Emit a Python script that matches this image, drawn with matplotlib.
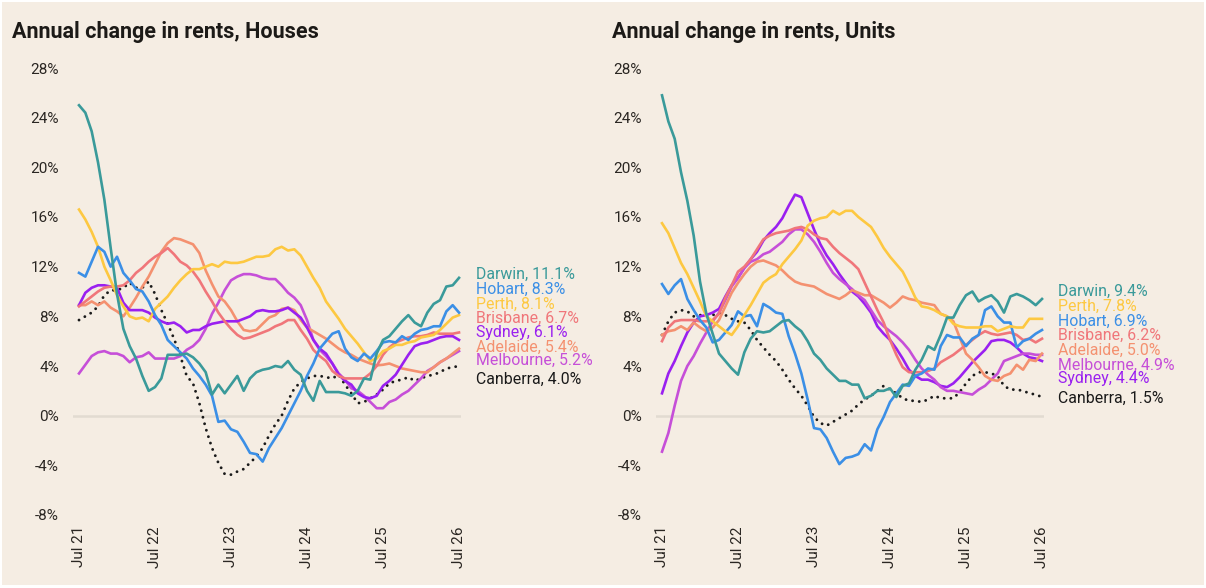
import numpy as np
import matplotlib
matplotlib.use("Agg")
import matplotlib.pyplot as plt
from matplotlib.patches import Rectangle

plt.rcParams['font.family'] = ['Roboto', 'DejaVu Sans']

# monthly observations, Jul 2021 .. Jul 2026 (61 months)
tick_months = [0, 12, 24, 36, 48, 60]
tick_labels = ['Jul 21', 'Jul 22', 'Jul 23', 'Jul 24', 'Jul 25', 'Jul 26']

# ---- Houses ----
h_darwin = [25.0, 24.4, 22.9, 20.4, 17.4, 13.5, 9.8, 7.0, 5.6, 4.6, 3.2, 2.0, 2.3, 3.0, 4.9, 4.9,
            4.9, 5.0, 4.7, 4.2, 3.5, 1.7, 2.5, 1.8, 2.5, 3.2, 2.0, 3.0, 3.5, 3.7, 3.8, 4.0,
            3.9, 4.4, 3.7, 3.3, 2.0, 1.2, 2.8, 1.9, 1.9, 1.9, 1.8, 1.6, 2.0, 3.0, 2.9, 5.0,
            6.1, 6.4, 7.0, 7.6, 8.1, 7.5, 7.2, 8.3, 9.0, 9.3, 10.4, 10.5, 11.1]
h_hobart = [11.5, 11.2, 12.4, 13.6, 13.2, 12.0, 12.8, 11.5, 10.9, 10.2, 10.0, 9.2, 8.1, 7.3, 6.1, 5.6,
            5.1, 4.6, 3.8, 3.2, 2.5, 1.6, -0.5, -0.4, -1.1, -1.3, -2.1, -3.0, -3.1, -3.7, -2.6, -1.8,
            -1.0, 0.0, 1.0, 2.0, 3.2, 4.2, 5.4, 6.0, 6.6, 6.8, 5.4, 4.7, 4.4, 5.0, 4.6, 5.2,
            5.9, 6.0, 5.9, 6.4, 6.1, 6.6, 6.9, 7.0, 7.2, 7.2, 8.4, 8.9, 8.3]
h_perth = [16.6, 15.8, 14.8, 13.6, 12.0, 10.9, 9.7, 8.8, 8.0, 7.8, 7.9, 7.6, 8.6, 9.1, 9.6, 10.3,
           10.9, 11.4, 11.8, 11.8, 12.0, 12.2, 12.0, 12.4, 12.3, 12.3, 12.4, 12.6, 12.8, 12.8, 12.9, 13.4,
           13.6, 13.3, 13.4, 12.9, 12.0, 11.1, 10.3, 9.2, 8.5, 7.8, 7.0, 6.4, 5.8, 5.1, 4.4, 4.6,
           5.2, 5.4, 5.7, 5.7, 5.9, 6.0, 6.3, 6.4, 6.5, 6.9, 7.4, 7.9, 8.1]
h_brisbane = [8.8, 9.2, 9.6, 10.0, 10.3, 10.4, 10.4, 10.5, 10.9, 11.5, 11.9, 12.4, 12.8, 13.1, 13.5, 13.0,
              12.4, 12.1, 11.6, 10.9, 10.0, 9.2, 8.3, 7.6, 7.0, 6.5, 6.2, 6.3, 6.5, 6.7, 6.9, 7.2,
              7.4, 7.7, 7.7, 6.9, 6.2, 5.3, 4.8, 4.4, 3.6, 3.2, 3.0, 3.0, 3.0, 3.0, 3.4, 4.0,
              4.9, 5.5, 5.9, 6.1, 6.3, 6.4, 6.4, 6.5, 6.7, 6.6, 6.6, 6.6, 6.7]
h_sydney = [8.9, 9.9, 10.3, 10.5, 10.5, 10.4, 10.3, 9.1, 8.5, 8.5, 8.5, 8.3, 7.9, 7.6, 7.4, 7.5,
            7.2, 6.7, 6.9, 6.9, 7.2, 7.4, 7.5, 7.6, 7.6, 7.6, 7.8, 8.0, 8.4, 8.5, 8.4, 8.4,
            8.5, 8.7, 8.3, 7.9, 7.1, 6.1, 5.4, 5.0, 4.2, 3.3, 2.8, 2.5, 1.8, 1.5, 1.4, 1.6,
            2.4, 2.8, 3.3, 4.1, 4.9, 5.6, 5.8, 5.9, 6.1, 6.3, 6.4, 6.4, 6.1]
h_adelaide = [8.9, 8.9, 9.2, 8.9, 9.2, 8.7, 8.4, 8.0, 8.7, 9.5, 10.4, 11.2, 12.2, 13.2, 13.9, 14.3,
              14.2, 14.0, 13.8, 13.1, 11.7, 10.6, 9.6, 9.2, 8.5, 7.6, 6.9, 6.8, 6.9, 7.4, 7.9, 8.1,
              8.6, 8.7, 8.5, 7.7, 7.1, 6.8, 6.5, 6.2, 5.8, 5.4, 5.1, 4.9, 4.6, 4.4, 4.2, 4.05,
              4.1, 4.2, 4.0, 3.8, 3.7, 3.6, 3.5, 3.5, 3.9, 4.3, 4.6, 5.0, 5.4]
h_melbourne = [3.4, 4.1, 4.8, 5.1, 5.2, 5.0, 5.0, 4.8, 4.3, 4.7, 4.8, 5.1, 4.6, 4.6, 4.6, 4.6,
               4.8, 5.3, 5.6, 6.1, 7.0, 8.2, 9.1, 10.1, 10.9, 11.2, 11.4, 11.4, 11.3, 11.1, 11.0, 11.0,
               10.5, 9.9, 9.5, 8.9, 7.7, 6.1, 5.3, 4.8, 4.2, 3.4, 2.9, 2.2, 2.0, 1.6, 1.1, 0.6,
               0.6, 1.1, 1.3, 1.7, 2.0, 2.5, 3.0, 3.6, 3.9, 4.3, 4.6, 4.9, 5.2]
h_canberra = [7.7, 8.0, 8.3, 8.8, 9.7, 10.1, 10.1, 10.3, 10.7, 10.3, 10.3, 10.8, 9.8, 8.5, 7.4, 6.2,
              4.8, 3.2, 2.6, 1.0, -1.0, -2.6, -3.8, -4.7, -4.75, -4.5, -4.3, -3.8, -3.3, -2.6, -1.6, -0.7,
              0.0, 1.2, 2.2, 2.7, 3.0, 3.2, 3.2, 3.1, 3.0, 3.3, 2.5, 1.8, 1.0, 1.1, 1.4, 1.7,
              2.1, 2.6, 2.8, 2.9, 3.1, 2.8, 3.0, 3.2, 3.3, 3.5, 3.8, 3.9, 4.0]

# ---- Units ----
u_darwin = [25.8, 23.7, 22.3, 19.6, 17.3, 14.5, 10.8, 8.2, 6.6, 5.0, 4.4, 3.8, 3.3, 5.1, 6.2, 6.8,
            6.7, 6.8, 7.2, 7.6, 7.7, 7.2, 6.8, 6.0, 5.0, 4.5, 3.8, 3.3, 2.8, 2.8, 2.5, 2.5,
            1.4, 1.6, 2.0, 2.0, 2.2, 1.5, 2.4, 2.6, 3.7, 4.5, 5.6, 5.3, 6.5, 7.9, 7.9, 8.9,
            9.7, 10.0, 9.2, 9.5, 9.7, 9.2, 8.3, 9.6, 9.8, 9.6, 9.3, 8.9, 9.4]
u_perth = [15.5, 14.7, 13.5, 12.3, 11.4, 10.3, 9.2, 8.0, 7.6, 7.2, 6.8, 6.5, 7.2, 8.1, 8.9, 9.8,
           10.7, 11.1, 11.4, 12.2, 12.8, 13.4, 14.1, 15.3, 15.7, 15.9, 16.0, 16.5, 16.2, 16.5, 16.5, 16.0,
           15.6, 15.2, 14.4, 13.5, 12.8, 12.2, 11.6, 10.6, 9.5, 8.8, 8.7, 8.5, 8.2, 8.0, 7.4, 7.2,
           7.1, 7.1, 7.1, 7.2, 7.2, 6.8, 7.0, 7.2, 7.1, 7.1, 7.8, 7.8, 7.8]
u_hobart = [10.6, 9.8, 10.5, 11.0, 9.4, 8.5, 7.7, 7.1, 5.9, 6.1, 6.7, 7.3, 8.4, 8.0, 8.1, 7.2,
            9.0, 8.7, 8.3, 8.2, 6.4, 5.0, 3.4, 1.3, -1.0, -1.1, -1.8, -2.9, -3.9, -3.4, -3.3, -3.1,
            -2.3, -2.8, -1.1, -0.1, 1.1, 1.8, 2.5, 2.4, 3.2, 3.4, 3.8, 3.7, 5.6, 6.5, 6.3, 6.3,
            5.6, 6.2, 6.5, 8.5, 8.8, 8.0, 7.5, 7.5, 5.5, 6.0, 6.2, 6.6, 6.9]
u_brisbane = [6.0, 7.1, 7.6, 7.7, 7.7, 7.7, 7.6, 7.6, 7.7, 8.2, 9.5, 10.5, 11.6, 12.0, 12.6, 13.4,
              14.2, 14.5, 14.7, 14.8, 14.9, 15.1, 15.2, 15.0, 14.6, 14.3, 14.2, 13.6, 13.1, 12.7, 12.3, 11.8,
              10.7, 9.6, 8.5, 7.5, 6.1, 4.9, 3.9, 3.5, 3.5, 3.5, 3.6, 3.8, 4.3, 4.6, 4.9, 5.3,
              5.7, 6.1, 6.5, 6.8, 6.6, 6.5, 6.6, 6.7, 6.5, 6.1, 6.2, 5.9, 6.2]
u_adelaide = [6.5, 6.8, 6.9, 7.2, 6.9, 7.5, 7.1, 6.8, 7.1, 7.7, 8.8, 9.9, 10.7, 11.4, 12.0, 12.4,
              12.5, 12.3, 12.1, 11.7, 11.2, 10.8, 10.6, 10.5, 10.4, 10.1, 9.8, 9.6, 9.4, 9.7, 10.1, 9.9,
              9.7, 9.7, 9.4, 9.1, 8.7, 9.1, 9.6, 9.4, 9.3, 9.1, 9.0, 8.9, 8.2, 8.0, 7.6, 6.3,
              5.0, 4.5, 3.9, 3.2, 2.9, 2.8, 3.2, 3.4, 4.1, 3.7, 4.5, 4.4, 5.0]
u_melbourne = [-2.9, -1.4, 0.8, 2.8, 4.0, 4.8, 5.8, 6.7, 7.6, 8.3, 9.3, 10.4, 11.1, 11.9, 12.4, 12.6,
               13.0, 13.2, 13.6, 14.0, 14.6, 15.0, 15.0, 14.6, 14.0, 13.2, 12.3, 11.5, 11.0, 10.6, 10.2, 9.7,
               9.3, 8.5, 7.7, 7.2, 6.8, 6.4, 5.9, 5.3, 4.5, 3.8, 3.3, 2.9, 2.3, 2.0, 2.0, 1.9,
               1.8, 1.7, 2.1, 2.4, 2.9, 3.4, 4.4, 4.6, 4.8, 5.0, 5.0, 4.9, 4.9]
u_sydney = [1.8, 3.4, 4.4, 5.6, 6.7, 7.5, 8.0, 8.1, 8.3, 8.6, 9.6, 10.5, 11.1, 11.9, 12.6, 13.2,
            14.1, 14.7, 15.2, 15.9, 16.9, 17.8, 17.6, 16.3, 15.0, 13.8, 12.9, 12.2, 11.4, 10.7, 10.0, 9.6,
            9.0, 8.3, 7.2, 6.6, 6.1, 5.4, 4.6, 3.7, 3.2, 2.9, 2.9, 2.7, 2.4, 2.3, 2.6, 3.1,
            3.7, 4.3, 4.8, 5.3, 6.0, 6.1, 6.1, 5.9, 5.5, 5.0, 4.7, 4.6, 4.4]
u_canberra = [6.5, 7.6, 8.3, 8.5, 8.4, 8.0, 8.1, 8.0, 8.1, 8.3, 8.1, 7.8, 7.6, 7.5, 6.9, 6.1,
              5.5, 4.9, 4.4, 3.7, 2.9, 2.2, 1.6, 0.8, -0.1, -0.6, -0.8, -0.5, -0.2, 0.1, 0.4, 0.9,
              1.3, 1.6, 2.0, 2.4, 2.1, 1.8, 1.4, 1.2, 1.2, 1.1, 1.3, 1.6, 1.4, 1.4, 1.4, 1.9,
              2.6, 3.2, 3.5, 3.5, 3.4, 3.2, 2.4, 2.1, 2.1, 2.0, 1.8, 1.7, 1.5]

colors = {
    'Darwin': '#3a9a9a',
    'Hobart': '#3b8fe6',
    'Perth': '#fdc841',
    'Brisbane': '#f0767a',
    'Sydney': '#9a20f0',
    'Adelaide': '#f49170',
    'Melbourne': '#c64fd8',
    'Canberra': '#1a1a1a',
}

houses = [('Darwin', h_darwin), ('Hobart', h_hobart), ('Perth', h_perth), ('Brisbane', h_brisbane),
          ('Sydney', h_sydney), ('Adelaide', h_adelaide), ('Melbourne', h_melbourne), ('Canberra', h_canberra)]
units = [('Darwin', u_darwin), ('Perth', u_perth), ('Hobart', u_hobart), ('Brisbane', u_brisbane),
         ('Adelaide', u_adelaide), ('Melbourne', u_melbourne), ('Sydney', u_sydney), ('Canberra', u_canberra)]

# label placement (pixel rows of the end labels)
house_label_y = [274, 289, 304, 318, 333, 347, 360, 379]
unit_label_y = [291, 306, 321, 335, 350, 365, 378, 398]

bg = '#f5ede3'
W, H = 1206, 588
fig = plt.figure(figsize=(W / 100, H / 100), dpi=100, facecolor='white')
fig.patches.append(Rectangle((2 / W, 3 / H), 1202 / W, 583 / H, transform=fig.transFigure,
                             facecolor=bg, edgecolor='none', zorder=-10))

px_per_month = 380 / 60
y_top, y_bot = 68, 515


def draw(ax_left_px, series, label_y, label_x_px, title, title_x_px):
    xl0, xl1 = -0.95, 60.3
    width_px = (xl1 - xl0) * px_per_month
    ax = fig.add_axes([ax_left_px / W, (H - y_bot) / H, width_px / W, (y_bot - y_top) / H])
    ax.set_facecolor('none')
    ax.set_xlim(xl0, xl1)
    ax.set_ylim(-8, 28)
    for s in ax.spines.values():
        s.set_visible(False)
    ax.axhline(0, color='#e2dbd1', lw=1.8, zorder=1)
    months = np.arange(61)
    for name, vals in reversed(series):
        if name == 'Canberra':
            ax.plot(months, vals, color=colors[name], lw=2.1, linestyle=(0, (0.01, 2.3)),
                    dash_capstyle='round', zorder=3)
        else:
            ax.plot(months, vals, color=colors[name], lw=1.9, zorder=3, solid_joinstyle='round')
    ax.set_yticks(range(-8, 29, 4))
    ax.set_yticklabels([f'{v}%' for v in range(-8, 29, 4)])
    ax.set_xticks(tick_months)
    ax.set_xticklabels(tick_labels, rotation=90)
    ax.tick_params(axis='both', length=0, labelsize=11, colors='#2a2622')
    ax.tick_params(axis='y', pad=10)
    ax.tick_params(axis='x', pad=8)
    for (name, vals), ly in zip(series, label_y):
        fig.text(label_x_px / W, (H - ly) / H, f'{name}, {vals[-1]:.1f}%', color=colors[name],
                 fontsize=11.4, va='center', ha='left')
    fig.text(title_x_px / W, (H - 32) / H, title, fontsize=15.5, fontweight='bold',
             color='#1c1a17', va='center', ha='left')
    return ax


draw(73, houses, house_label_y, 476, 'Annual change in rents, Houses', 12)
draw(656, units, unit_label_y, 1058, 'Annual change in rents, Units', 612)

fig.savefig('out.png', dpi=100, facecolor='white')
